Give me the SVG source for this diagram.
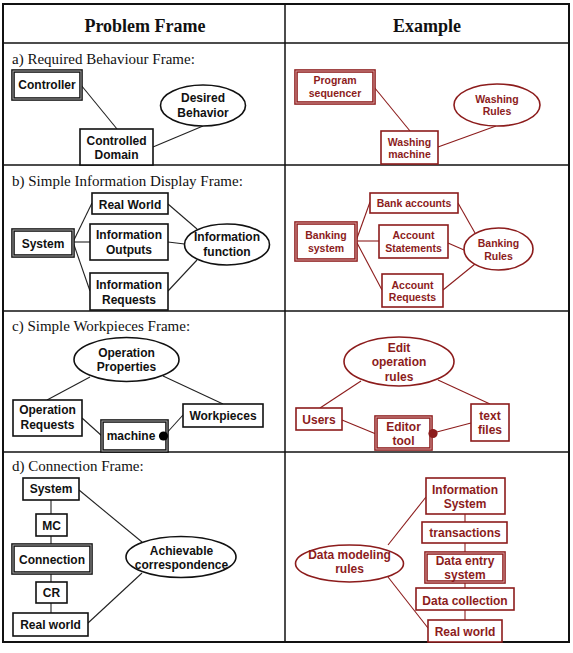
<svg xmlns="http://www.w3.org/2000/svg" width="573" height="653" viewBox="0 0 573 653">
<style>
.hdr{font-family:"Liberation Serif","Times New Roman",serif;font-weight:bold;font-size:18px;fill:#111;text-anchor:middle}
.lbl{font-family:"Liberation Serif","Times New Roman",serif;font-size:15px;fill:#111}
.t{font-family:"Liberation Sans",Arial,sans-serif;font-weight:bold;font-size:12px;fill:#111;text-anchor:middle}
.r{font-family:"Liberation Sans",Arial,sans-serif;font-weight:bold;font-size:12px;fill:#8c1c1c;text-anchor:middle}
.rs{font-size:10.5px}
.grid{stroke:#111;stroke-width:1.5;fill:none}
.bx{fill:#fff;stroke:#111;stroke-width:1.6}
.dbx{fill:#fff;stroke:#111;stroke-width:3.6}
.dbi{fill:none;stroke:#aaa;stroke-width:1}
.rbx{fill:#fff;stroke:#8c1c1c;stroke-width:1.6}
.rdbx{fill:#fff;stroke:#8c1c1c;stroke-width:3.6}
.rdbi{fill:none;stroke:#d9a0a0;stroke-width:1}
.el{fill:#fff;stroke:#111;stroke-width:1.6}
.rel{fill:#fff;stroke:#8c1c1c;stroke-width:1.6}
.ln{stroke:#222;stroke-width:1.1;fill:none}
.rln{stroke:#8c1c1c;stroke-width:1.1;fill:none}
</style>
<rect width="573" height="653" fill="#fff"/>
<g id="table">
<rect x="3" y="4" width="566" height="638" fill="none" stroke="#111" stroke-width="2"/>
<line class="grid" x1="3" y1="43" x2="569" y2="43"/>
<line class="grid" x1="3" y1="165" x2="569" y2="165"/>
<line class="grid" x1="3" y1="311" x2="569" y2="311"/>
<line class="grid" x1="3" y1="452" x2="569" y2="452"/>
<line class="grid" x1="285" y1="4" x2="285" y2="642"/>
<text class="hdr" x="145" y="32">Problem Frame</text>
<text class="hdr" x="427" y="32">Example</text>
<text class="lbl" x="12" y="64">a) Required Behaviour Frame:</text>
<text class="lbl" x="12" y="186">b) Simple Information Display Frame:</text>
<text class="lbl" x="12" y="331">c) Simple Workpieces Frame:</text>
<text class="lbl" x="12" y="471">d) Connection Frame:</text>
</g>
<g id="connectors">
<line class="ln" x1="81" y1="85" x2="117" y2="129"/>
<line class="ln" x1="153" y1="147" x2="203" y2="126"/>
<line class="rln" x1="374" y1="87" x2="410" y2="131"/>
<line class="rln" x1="438" y1="147" x2="496" y2="126"/>
<line class="ln" x1="73" y1="242" x2="92" y2="203"/>
<line class="ln" x1="73" y1="242" x2="90" y2="242"/>
<line class="ln" x1="73" y1="242" x2="90" y2="291"/>
<line class="ln" x1="168" y1="204" x2="197" y2="229"/>
<line class="ln" x1="168" y1="242" x2="184.5" y2="244"/>
<line class="ln" x1="168" y1="291" x2="197" y2="260"/>
<line class="rln" x1="356" y1="241" x2="370" y2="202"/>
<line class="rln" x1="356" y1="241" x2="379" y2="241"/>
<line class="rln" x1="356" y1="241" x2="382" y2="290"/>
<line class="rln" x1="458" y1="203" x2="475" y2="233"/>
<line class="rln" x1="448" y1="243" x2="464" y2="250"/>
<line class="rln" x1="443" y1="290" x2="475" y2="264"/>
<line class="ln" x1="90" y1="377" x2="47" y2="400"/>
<line class="ln" x1="163" y1="376" x2="223" y2="404"/>
<line class="ln" x1="82" y1="418" x2="102" y2="436"/>
<line class="ln" x1="164" y1="436" x2="183" y2="415"/>
<line class="rln" x1="361" y1="381" x2="320" y2="408"/>
<line class="rln" x1="438" y1="380" x2="490" y2="404"/>
<line class="rln" x1="342" y1="420" x2="376" y2="434"/>
<line class="rln" x1="433" y1="433" x2="471" y2="423"/>
<line class="ln" x1="51" y1="500" x2="51" y2="514"/>
<line class="ln" x1="51" y1="536" x2="51" y2="545"/>
<line class="ln" x1="51" y1="573" x2="51" y2="582"/>
<line class="ln" x1="51" y1="603" x2="51" y2="613"/>
<line class="ln" x1="79" y1="490" x2="142" y2="542"/>
<line class="ln" x1="88" y1="623" x2="142" y2="573"/>
<line class="rln" x1="465" y1="514" x2="465" y2="522"/>
<line class="rln" x1="465" y1="543" x2="465" y2="553"/>
<line class="rln" x1="465" y1="582" x2="465" y2="588"/>
<line class="rln" x1="465" y1="610" x2="465" y2="620"/>
<line class="rln" x1="388" y1="545" x2="426" y2="497"/>
<line class="rln" x1="388" y1="577" x2="428" y2="628"/>
</g>
<g id="controller"><rect class="dbx" x="13" y="71" width="68" height="28"/><rect class="dbi" x="13" y="71" width="68" height="28"/><text class="t" x="47" y="89">Controller</text></g>
<g id="desired-behavior"><ellipse class="el" cx="203" cy="105.5" rx="42.5" ry="20.5"/><text class="t" x="203" y="102">Desired</text><text class="t" x="203" y="117">Behavior</text></g>
<g id="controlled-domain"><rect class="bx" x="80" y="129" width="73" height="36"/><text class="t" x="116.5" y="145">Controlled</text><text class="t" x="116.5" y="159">Domain</text></g>
<g id="program-sequencer"><rect class="rdbx" x="296" y="71" width="78" height="32"/><rect class="rdbi" x="296" y="71" width="78" height="32"/><text class="r rs" x="335" y="84">Program</text><text class="r rs" x="335" y="97">sequencer</text></g>
<g id="washing-rules"><ellipse class="rel" cx="497" cy="105" rx="43" ry="21"/><text class="r rs" x="497" y="102.5">Washing</text><text class="r rs" x="497" y="115">Rules</text></g>
<g id="washing-machine"><rect class="rbx" x="381" y="131" width="57" height="33"/><text class="r rs" x="409.5" y="145.5">Washing</text><text class="r rs" x="409.5" y="157.5">machine</text></g>
<g id="system-b"><rect class="dbx" x="13" y="230" width="60" height="26"/><rect class="dbi" x="13" y="230" width="60" height="26"/><text class="t" x="43" y="247.5">System</text></g>
<g id="real-world-b"><rect class="bx" x="92" y="193" width="76" height="21"/><text class="t" x="130" y="208.5">Real World</text></g>
<g id="information-outputs"><rect class="bx" x="90" y="224" width="78" height="36"/><text class="t" x="129" y="239">Information</text><text class="t" x="129" y="253.5">Outputs</text></g>
<g id="information-requests"><rect class="bx" x="90" y="273" width="78" height="37"/><text class="t" x="129" y="288.5">Information</text><text class="t" x="129" y="303.5">Requests</text></g>
<g id="information-function"><ellipse class="el" cx="227" cy="244.5" rx="42.5" ry="20.5"/><text class="t" x="227" y="241">Information</text><text class="t" x="227" y="256">function</text></g>
<g id="banking-system"><rect class="rdbx" x="296" y="223" width="60" height="37"/><rect class="rdbi" x="296" y="223" width="60" height="37"/><text class="r rs" x="326" y="239">Banking</text><text class="r rs" x="326" y="251.5">system</text></g>
<g id="bank-accounts"><rect class="rbx" x="370" y="193" width="88" height="20"/><text class="r rs" x="414" y="207">Bank accounts</text></g>
<g id="account-statements"><rect class="rbx" x="379" y="225" width="69" height="33"/><text class="r rs" x="413.5" y="239">Account</text><text class="r rs" x="413.5" y="251.5">Statements</text></g>
<g id="account-requests"><rect class="rbx" x="382" y="274" width="61" height="33"/><text class="r rs" x="412.5" y="288.5">Account</text><text class="r rs" x="412.5" y="300.5">Requests</text></g>
<g id="banking-rules"><ellipse class="rel" cx="498.5" cy="249" rx="34.5" ry="21"/><text class="r rs" x="498.5" y="247">Banking</text><text class="r rs" x="498.5" y="259.5">Rules</text></g>
<g id="operation-properties"><ellipse class="el" cx="126.5" cy="359.5" rx="52.5" ry="22"/><text class="t" x="126.5" y="357">Operation</text><text class="t" x="126.5" y="371">Properties</text></g>
<g id="operation-requests"><rect class="bx" x="13" y="400" width="69" height="36"/><text class="t" x="47.5" y="414">Operation</text><text class="t" x="47.5" y="428.5">Requests</text></g>
<g id="machine"><rect class="dbx" x="102" y="421" width="65" height="30"/><rect class="dbi" x="102" y="421" width="65" height="30"/><text class="t" x="131" y="440">machine</text><circle cx="163.5" cy="436" r="4.6" fill="#000"/></g>
<g id="workpieces"><rect class="bx" x="183" y="404" width="80" height="23"/><text class="t" x="223" y="419.5">Workpieces</text></g>
<g id="edit-operation-rules"><ellipse class="rel" cx="399" cy="361.5" rx="55" ry="24.5"/><text class="r" x="399" y="352">Edit</text><text class="r" x="399" y="366">operation</text><text class="r" x="399" y="380.5">rules</text></g>
<g id="users"><rect class="rbx" x="296" y="408" width="46" height="22"/><text class="r" x="319" y="423.5">Users</text></g>
<g id="editor-tool"><rect class="rdbx" x="376" y="417" width="55" height="32"/><rect class="rdbi" x="376" y="417" width="55" height="32"/><text class="r" x="403.5" y="431">Editor</text><text class="r" x="403.5" y="444.5">tool</text><circle cx="433" cy="433.5" r="4.6" fill="#8c1c1c"/></g>
<g id="text-files"><rect class="rbx" x="471" y="404" width="38" height="37"/><text class="r" x="490" y="419.5">text</text><text class="r" x="490" y="433.5">files</text></g>
<g id="system-d"><rect class="bx" x="23" y="478" width="56" height="22"/><text class="t" x="51" y="493">System</text></g>
<g id="mc"><rect class="bx" x="36" y="514" width="31" height="22"/><text class="t" x="51.5" y="529.5">MC</text></g>
<g id="connection"><rect class="dbx" x="13" y="545" width="78" height="28"/><rect class="dbi" x="13" y="545" width="78" height="28"/><text class="t" x="52" y="564">Connection</text></g>
<g id="cr"><rect class="bx" x="36" y="582" width="31" height="21"/><text class="t" x="51.5" y="597">CR</text></g>
<g id="real-world-d"><rect class="bx" x="13" y="613" width="75" height="23"/><text class="t" x="50.5" y="629">Real world</text></g>
<g id="achievable-correspondence"><ellipse class="el" cx="181" cy="557" rx="55" ry="20.5"/><text class="t" x="181.5" y="554.5">Achievable</text><text class="t" x="181.5" y="568.5">correspondence</text></g>
<g id="data-modeling-rules"><ellipse class="rel" cx="349.5" cy="563.5" rx="54" ry="18.5"/><text class="r" x="349.5" y="558.5">Data modeling</text><text class="r" x="349.5" y="572.5">rules</text></g>
<g id="information-system"><rect class="rbx" x="426" y="478" width="79" height="36"/><text class="r" x="465" y="493.5">Information</text><text class="r" x="465" y="508">System</text></g>
<g id="transactions"><rect class="rbx" x="422" y="522" width="85" height="21"/><text class="r" x="465" y="537">transactions</text></g>
<g id="data-entry-system"><rect class="rdbx" x="426" y="553" width="78" height="29"/><rect class="rdbi" x="426" y="553" width="78" height="29"/><text class="r" x="465" y="565">Data entry</text><text class="r" x="465" y="578.5">system</text></g>
<g id="data-collection"><rect class="rbx" x="416" y="588" width="98" height="22"/><text class="r" x="465" y="604.5">Data collection</text></g>
<g id="real-world-ex"><rect class="rbx" x="428" y="620" width="74" height="22"/><text class="r" x="465" y="635.5">Real world</text></g>
</svg>
